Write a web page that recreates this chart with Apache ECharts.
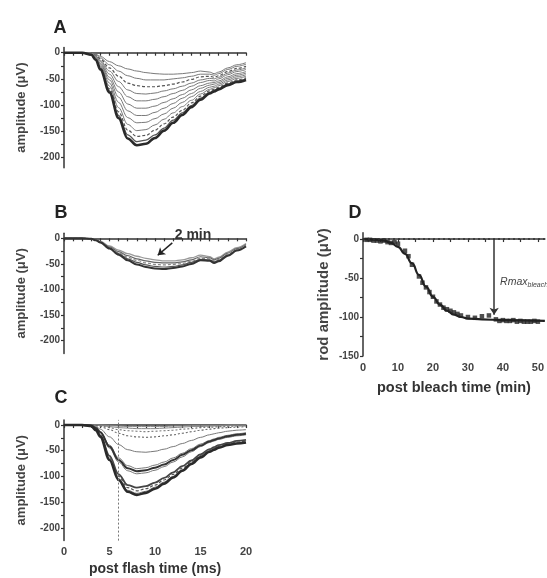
<!DOCTYPE html>
<html><head><meta charset="utf-8">
<script src="https://cdn.jsdelivr.net/npm/echarts@6/dist/echarts.min.js"></script>
<style>html,body{margin:0;padding:0;background:#fff}#c{width:547px;height:578px}</style>
</head><body><div id="c"></div>
<script>
// time points (ms) for ERG traces
const T = [0,1,2,3,3.5,4,5,6,7,8,9,10,11,12,13,14,15,16,16.5,17,18,19,20];
// Panel A traces (µV)
const A1  = [0,0,0,-1,-3,-7,-17,-25,-31,-35,-38,-40,-41,-41,-40,-38,-35,-37,-40,-37,-29,-23,-19];
const A2  = [0,0,0,-1,-4,-10,-23,-35,-44,-49,-52,-52,-52,-50,-48,-45,-41,-41,-43,-40,-32,-26,-22];
const A3  = [0,0,0,-2,-5,-12,-29,-45,-58,-63,-65,-65,-63,-60,-56,-51,-46,-45,-47,-44,-36,-30,-26];
const A4  = [0,0,0,-2,-6,-15,-35,-55,-71,-78,-79,-77,-73,-69,-64,-58,-52,-49,-50,-47,-39,-33,-29];
const A5  = [0,0,0,-2,-7,-17,-41,-65,-84,-92,-92,-89,-84,-78,-72,-64,-57,-53,-54,-50,-42,-36,-32];
const A6  = [0,0,0,-3,-9,-20,-47,-75,-98,-106,-106,-102,-95,-88,-80,-71,-63,-58,-57,-54,-46,-40,-36];
const A7  = [0,0,0,-3,-10,-22,-52,-85,-111,-120,-120,-114,-106,-97,-87,-78,-68,-62,-60,-57,-49,-43,-39];
const A8  = [0,0,0,-3,-11,-25,-58,-95,-124,-134,-133,-126,-117,-106,-95,-84,-74,-66,-64,-60,-52,-46,-42];
const A9  = [0,0,0,-3,-12,-27,-64,-105,-137,-149,-147,-138,-127,-115,-103,-91,-79,-70,-67,-63,-55,-49,-45];
const A10 = [0,0,0,-4,-13,-29,-69,-113,-148,-160,-158,-148,-136,-123,-110,-96,-83,-73,-70,-66,-58,-52,-48];
const A11 = [0,0,0,-4,-14,-31,-73,-120,-157,-170,-167,-157,-144,-129,-115,-101,-87,-76,-72,-68,-60,-54,-50];
const A12 = [0,0,0,-4,-14,-32,-76,-125,-164,-177,-174,-163,-149,-134,-119,-104,-90,-78,-74,-70,-62,-56,-52];
// Panel B traces
const B1 = [0,0,0,-1,-3,-6,-15,-23,-30,-35,-39,-42,-44,-44,-42,-38,-33,-36,-40,-37,-27,-18,-10];
const B2 = [0,0,0,-1,-3,-7,-17,-26,-34,-40,-44,-47,-48,-48,-46,-42,-36,-38,-42,-39,-29,-20,-12];
const B3 = [0,0,0,-1,-3,-7,-18,-28,-37,-43,-48,-51,-52,-51,-49,-45,-39,-40,-44,-41,-31,-22,-14];
const B4 = [0,0,0,-1,-4,-8,-19,-30,-40,-47,-52,-55,-56,-55,-52,-47,-41,-42,-46,-43,-33,-23,-15];
const B5 = [0,0,0,-1,-4,-8,-20,-32,-43,-51,-56,-59,-60,-58,-55,-50,-43,-44,-48,-45,-34,-24,-16];
// Panel C traces
const C1  = [0,0,0,0,0,0,-1,-2,-3,-3,-3,-3,-3,-2,-2,-1,-1,-1,-1,-1,0,0,0];
const C2  = [0,0,0,0,0,-1,-3,-5,-6,-7,-7,-7,-6,-5,-4,-3,-3,-2,-2,-2,-1,-1,-1];
const C3  = [0,0,0,0,-1,-2,-5,-9,-11,-12,-13,-12,-11,-10,-8,-7,-5,-4,-4,-3,-3,-2,-2];
const C4  = [0,0,0,0,-1,-3,-9,-16,-21,-23,-24,-23,-21,-19,-16,-13,-10,-8,-7,-6,-5,-4,-3];
const C5  = [0,0,0,-1,-3,-8,-23,-38,-48,-52,-53,-51,-47,-42,-36,-30,-24,-19,-17,-15,-12,-10,-9];
const C6  = [0,0,0,-1,-5,-13,-39,-64,-79,-85,-83,-78,-72,-64,-55,-46,-37,-30,-27,-24,-20,-17,-15];
const C7  = [0,0,0,-1,-6,-14,-42,-68,-84,-90,-88,-83,-77,-68,-58,-49,-40,-32,-29,-26,-22,-19,-17];
const C8  = [0,0,0,-1,-6,-15,-45,-72,-89,-95,-93,-88,-81,-72,-62,-52,-42,-34,-31,-28,-24,-21,-19];
const C9  = [0,0,0,-2,-9,-20,-60,-96,-117,-122,-119,-112,-103,-92,-80,-69,-57,-47,-43,-39,-35,-31,-29];
const C10 = [0,0,0,-2,-9,-21,-63,-100,-122,-128,-124,-117,-107,-96,-84,-72,-59,-49,-45,-41,-37,-33,-31];
const C11 = [0,0,0,-2,-10,-22,-66,-104,-127,-133,-129,-121,-111,-100,-87,-74,-61,-51,-47,-43,-38,-35,-33];
const C12 = [0,0,0,-2,-10,-23,-68,-107,-130,-136,-132,-124,-114,-102,-89,-76,-63,-52,-48,-44,-39,-36,-34];
// Panel D: data points (min, µV) and fitted curve
const Dt   = [1,2,3,4,5,6,7,8,9,10,12,13,14,16,17,18,19,20,21,22,23,24,25,26,27,28,30,32,34,36,38,39,40,41,42,43,44,45,46,47,48,49,50];
const Damp = [-1,-1,-2,-2,-3,-2,-4,-5,-4,-6,-15,-22,-33,-48,-56,-62,-68,-74,-80,-84,-88,-90,-92,-94,-96,-98,-100,-101,-99,-98,-103,-105,-104,-105,-105,-104,-106,-105,-106,-106,-106,-105,-106];
const Ft   = [0,4,6,8,10,12,14,16,18,20,22,24,26,28,30,34,40,52];
const Famp = [0,-1,-2,-5,-10,-19,-31,-46,-61,-74,-84,-92,-97,-100,-102,-103,-104,-105];
// tick labels
const ampLabels = [0,-50,-100,-150,-200];
const ampTicks = [0,-25,-50,-75,-100,-125,-150,-175,-200];
const msLabels = [0,5,10,15,20];
const msTicks = [0,1,2,3,4,5,6,7,8,9,10,11,12,13,14,15,16,17,18,19,20];
const dAmpLabels = [0,-50,-100,-150];
const dAmpTicks = [0,-25,-50,-75,-100,-125,-150];
const minLabels = [0,10,20,30,40,50];
const minTicks = [0,5,10,15,20,25,30,35,40,45,50];

const FONT = 'Liberation Sans, Arial, sans-serif';
const AX = '#333';
const chart = echarts.init(document.getElementById('c'), null, {renderer:'canvas'});

function xAxisMs(idx, showLabels){
  return {type:'value', gridIndex:idx, min:0, max:20,
    axisLine:{lineStyle:{color:AX,width:1.5}},
    axisTick:{show:true,customValues:msTicks,length:3,lineStyle:{color:AX,width:1.2}},
    axisLabel:{show:showLabels,customValues:msLabels,color:'#444',fontFamily:FONT,fontSize:11,fontWeight:'bold',margin:6},
    splitLine:{show:false},
    name: showLabels ? 'post flash time (ms)' : '', nameLocation:'middle', nameGap:22,
    nameTextStyle:{color:'#333',fontFamily:FONT,fontSize:14,fontWeight:'bold'}};
}
function yAxisAmp(idx, min){
  return {type:'value', gridIndex:idx, min:min, max:10,
    axisLine:{show:true,lineStyle:{color:AX,width:1.5}},
    axisTick:{show:true,customValues:ampTicks,length:3,lineStyle:{color:AX,width:1.2}},
    axisLabel:{customValues:ampLabels,color:'#444',fontFamily:FONT,fontSize:10,fontWeight:'bold',margin:4},
    splitLine:{show:false},
    name:'amplitude (\u03bcV)', nameLocation:'middle', nameGap:36,
    nameTextStyle:{color:'#444',fontFamily:FONT,fontSize:13,fontWeight:'bold'}};
}
function trace(arr, xi, style){
  const s = Object.assign({color:'#777',width:1,type:'solid'}, style||{});
  return {type:'line', xAxisIndex:xi, yAxisIndex:xi, data:T.map((t,i)=>[t,arr[i]]),
    showSymbol:false, smooth:0.35, smoothMonotone:'x', silent:true, animation:false,
    lineStyle:{color:s.color,width:s.width,type:s.type}, z:s.z||2};
}
const thin = {color:'#7a7a7a',width:1};
const dash = {color:'#555',width:1.2,type:[3,2]};
const thick = {color:'#2a2a2a',width:2.6,z:3};

const series = [];
[A1,A2].forEach(a=>series.push(trace(a,0,thin)));
series.push(trace(A3,0,dash));
[A4,A5,A6,A7,A8,A9].forEach(a=>series.push(trace(a,0,thin)));
series.push(trace(A10,0,dash));
series.push(trace(A11,0,{color:'#555',width:1.3}));
series.push(trace(A12,0,thick));

series.push(trace(B1,1,{color:'#999',width:1.3}));
series.push(trace(B2,1,{color:'#666',width:1.2}));
series.push(trace(B3,1,{color:'#888',width:1.2,type:[3,2]}));
series.push(trace(B4,1,{color:'#555',width:1.2}));
const b5 = trace(B5,1,{color:'#333',width:2,z:3});
b5.markLine = {silent:true, symbol:['none','arrow'], symbolSize:7, animation:false,
  lineStyle:{color:'#222',width:1.5,type:'solid'}, label:{show:false},
  data:[[{coord:[11.9,-9]},{coord:[10.3,-33]}]]};
series.push(b5);

series.push(trace(C1,2,{color:'#888',width:1}));
series.push(trace(C2,2,{color:'#888',width:1}));
series.push(trace(C3,2,{color:'#777',width:1.1,type:[2,2]}));
series.push(trace(C4,2,{color:'#666',width:1.1,type:[2,2]}));
series.push(trace(C5,2,thin));
series.push(trace(C6,2,thin));
series.push(trace(C7,2,{color:'#333',width:2,z:3}));
series.push(trace(C8,2,thin));
series.push(trace(C9,2,{color:'#444',width:1.8}));
series.push(trace(C10,2,dash));
series.push(trace(C11,2,thin));
const c12 = trace(C12,2,thick);
c12.markLine = {silent:true, symbol:['none','none'], animation:false,
  lineStyle:{color:'#777',width:1,type:[2,2]}, label:{show:false}, data:[{xAxis:6}]};
series.push(c12);

// Panel D
series.push({type:'line', xAxisIndex:3, yAxisIndex:3, data:Ft.map((t,i)=>[t,Famp[i]]),
  showSymbol:false, smooth:0.5, smoothMonotone:'x', silent:true, animation:false,
  lineStyle:{color:'#222',width:2.2}, z:2,
  markLine:{silent:true, animation:false, label:{show:false},
    data:[
      [{coord:[0,0],symbol:'none'},{coord:[52,0],symbol:'none',lineStyle:{color:'#333',width:1.6,type:[2,3]}}],
      [{coord:[37.5,0],symbol:'none'},{coord:[37.5,-97],symbol:'arrow',symbolSize:7}]
    ], lineStyle:{color:'#333',width:1.5,type:'solid'}},
  markPoint:{silent:true, animation:false, symbol:'circle', symbolSize:0,
    data:[{coord:[39.2,-55], label:{show:true, position:'right', distance:0,
      formatter:'{a|Rmax}{b|bleach}',
      rich:{a:{fontFamily:FONT,fontStyle:'italic',fontSize:10.5,color:'#444'},
            b:{fontFamily:FONT,fontStyle:'italic',fontSize:7,color:'#444',padding:[6,0,0,0]}}}}]}
});
series.push({type:'scatter', xAxisIndex:3, yAxisIndex:3, data:Dt.map((t,i)=>[t,Damp[i]]),
  symbol:'rect', symbolSize:4.5, itemStyle:{color:'#222'}, silent:true, animation:false, z:4});

const option = {
  backgroundColor:'#fff',
  animation:false,
  grid:[
    {left:64, top:47.5, width:182, height:120.3},
    {left:64, top:233.2, width:182, height:120.3},
    {left:64, top:419.9, width:182, height:120.7},
    {left:363, top:232.8, width:186, height:123.2}
  ],
  xAxis:[xAxisMs(0,false), xAxisMs(1,false), xAxisMs(2,true),
    {type:'value', gridIndex:3, min:0, max:52,
      axisLine:{lineStyle:{color:AX,width:1.5}},
      axisTick:{customValues:minTicks,length:3,lineStyle:{color:AX,width:1.2}},
      axisLabel:{customValues:minLabels,color:'#444',fontFamily:FONT,fontSize:11,fontWeight:'bold',margin:6},
      splitLine:{show:false},
      name:'post bleach time (min)', nameLocation:'middle', nameGap:24,
      nameTextStyle:{color:'#333',fontFamily:FONT,fontSize:14.5,fontWeight:'bold'}}],
  yAxis:[yAxisAmp(0,-220), yAxisAmp(1,-225), yAxisAmp(2,-225),
    {type:'value', gridIndex:3, min:-150, max:8,
      axisLine:{show:true,lineStyle:{color:AX,width:1.5}},
      axisTick:{show:true,customValues:dAmpTicks,length:3,lineStyle:{color:AX,width:1.2}},
      axisLabel:{customValues:dAmpLabels,color:'#444',fontFamily:FONT,fontSize:10,fontWeight:'bold',margin:4},
      splitLine:{show:false},
      name:'rod amplitude (\u03bcV)', nameLocation:'middle', nameGap:32,
      nameTextStyle:{color:'#444',fontFamily:FONT,fontSize:15,fontWeight:'bold'}}],
  graphic:[
    {type:'text', x:60, y:28, style:{text:'A', font:'bold 18px '+FONT, fill:'#222', textAlign:'center', textVerticalAlign:'middle'}},
    {type:'text', x:61, y:213, style:{text:'B', font:'bold 18px '+FONT, fill:'#222', textAlign:'center', textVerticalAlign:'middle'}},
    {type:'text', x:61, y:398, style:{text:'C', font:'bold 18px '+FONT, fill:'#222', textAlign:'center', textVerticalAlign:'middle'}},
    {type:'text', x:355, y:213, style:{text:'D', font:'bold 18px '+FONT, fill:'#222', textAlign:'center', textVerticalAlign:'middle'}},
    {type:'text', x:193, y:235, style:{text:'2 min', font:'bold 14px '+FONT, fill:'#333', textAlign:'center', textVerticalAlign:'middle'}}
  ],
  series: series
};
chart.setOption(option);
</script></body></html>
